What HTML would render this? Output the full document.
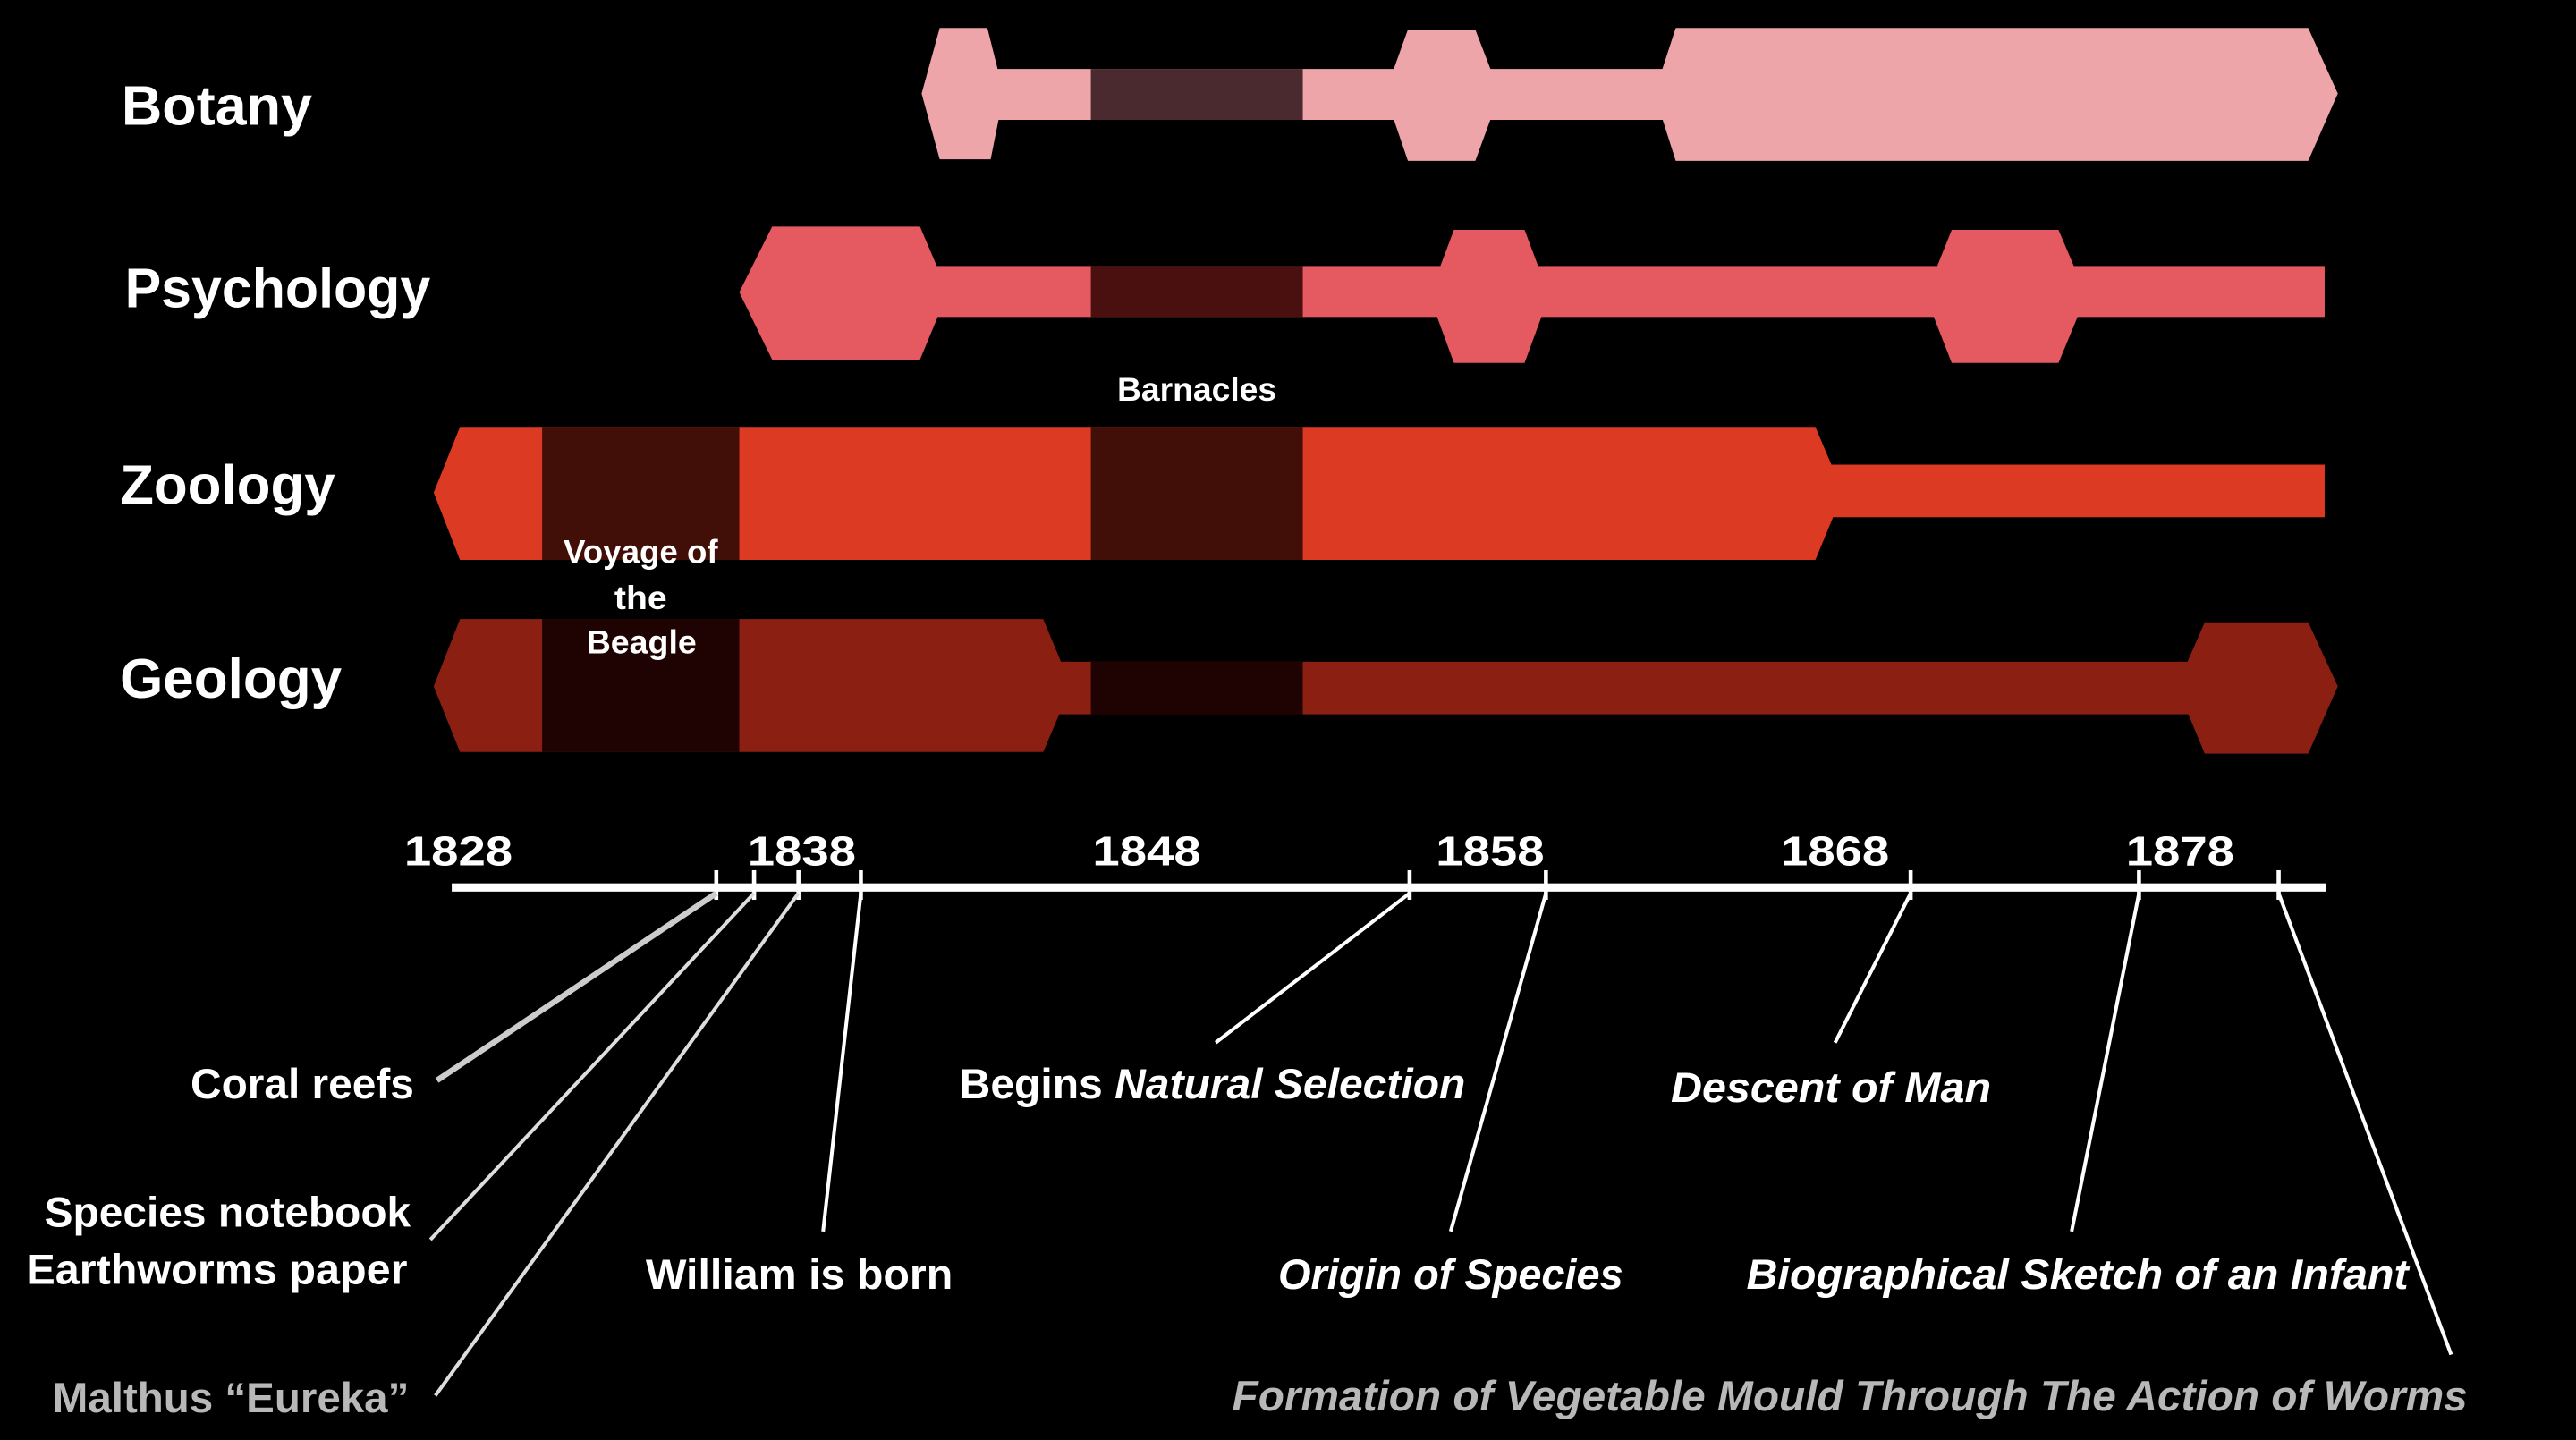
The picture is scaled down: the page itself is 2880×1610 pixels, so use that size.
<!DOCTYPE html>
<html><head><meta charset="utf-8"><style>
html,body{margin:0;padding:0;background:#000;width:2880px;height:1610px;overflow:hidden}
svg{display:block}
text{font-family:"Liberation Sans",sans-serif;font-weight:bold;fill:#fff}
</style></head><body>
<svg width="2880" height="1610" viewBox="0 0 1568 877" preserveAspectRatio="none">
<rect width="1568" height="877" fill="#000"/>
<!-- Botany -->
<g fill="#EDA5AA">
<rect x="605" y="42" width="410" height="31"/>
<polygon points="561,57 572,17 601,17 611,57 603,97 572,97"/>
<polygon points="843,57 857,18 898,18 913,57 898,98 857,98"/>
<polygon points="1007,57 1020,17 1405,17 1423,57 1405,98 1020,98"/>
</g>
<rect x="664" y="42" width="129" height="31" fill="#4a2a2e"/>
<!-- Psychology -->
<g fill="#E45A60">
<rect x="560" y="162" width="855" height="31"/>
<polygon points="450,178 470,138 560,138 577,178 560,219 470,219"/>
<polygon points="870,180 885,140 928,140 943,180 928,221 885,221"/>
<polygon points="1172,180 1188,140 1253,140 1270,180 1253,221 1188,221"/>
</g>
<rect x="664" y="162" width="129" height="31" fill="#4a1010"/>
<!-- Zoology -->
<g fill="#DC3A22">
<rect x="1105" y="283" width="310" height="32"/>
<polygon points="264,300 280,260 1105,260 1122,300 1105,341 280,341"/>
</g>
<rect x="330" y="260" width="120" height="81" fill="#420e08"/>
<rect x="664" y="260" width="129" height="81" fill="#420e08"/>
<!-- Geology -->
<g fill="#8A1F12">
<rect x="640" y="403" width="705" height="32"/>
<polygon points="264,418 280,377 635,377 652,418 635,458 280,458"/>
<polygon points="1325,418 1342,379 1405,379 1423,418 1405,459 1342,459"/>
</g>
<rect x="330" y="377" width="120" height="81" fill="#1f0302"/>
<rect x="664" y="403" width="129" height="32" fill="#1f0302"/>
<!-- titles -->
<text x="74" y="76" font-size="34" textLength="116" lengthAdjust="spacingAndGlyphs">Botany</text>
<text x="76" y="187" font-size="34" textLength="186" lengthAdjust="spacingAndGlyphs">Psychology</text>
<text x="73" y="307" font-size="34" textLength="131" lengthAdjust="spacingAndGlyphs">Zoology</text>
<text x="73" y="425" font-size="34" textLength="135" lengthAdjust="spacingAndGlyphs">Geology</text>
<text x="680" y="244" font-size="20" textLength="97" lengthAdjust="spacingAndGlyphs">Barnacles</text>
<text x="343" y="343" font-size="20" textLength="94" lengthAdjust="spacingAndGlyphs">Voyage of</text>
<text x="374" y="371" font-size="20" textLength="32" lengthAdjust="spacingAndGlyphs">the</text>
<text x="357" y="398" font-size="20" textLength="67" lengthAdjust="spacingAndGlyphs">Beagle</text>
<!-- axis -->
<rect x="275" y="538" width="1141" height="5" fill="#fff"/>
<g stroke="#fff" stroke-width="2.5">
<line x1="436" y1="530" x2="436" y2="548"/><line x1="459" y1="530" x2="459" y2="548"/>
<line x1="486" y1="530" x2="486" y2="548"/><line x1="524" y1="530" x2="524" y2="548"/>
<line x1="858" y1="530" x2="858" y2="548"/><line x1="941" y1="530" x2="941" y2="548"/>
<line x1="1163" y1="530" x2="1163" y2="548"/><line x1="1302" y1="530" x2="1302" y2="548"/>
<line x1="1387" y1="530" x2="1387" y2="548"/>
</g>
<g font-size="25">
<text x="246" y="527" textLength="66" lengthAdjust="spacingAndGlyphs">1828</text>
<text x="455" y="527" textLength="66" lengthAdjust="spacingAndGlyphs">1838</text>
<text x="665" y="527" textLength="66" lengthAdjust="spacingAndGlyphs">1848</text>
<text x="874" y="527" textLength="66" lengthAdjust="spacingAndGlyphs">1858</text>
<text x="1084" y="527" textLength="66" lengthAdjust="spacingAndGlyphs">1868</text>
<text x="1294" y="527" textLength="66" lengthAdjust="spacingAndGlyphs">1878</text>
</g>
<!-- leaders -->
<g stroke-width="2.2" fill="none">
<line x1="436" y1="544" x2="266" y2="658" stroke="#ccc" stroke-width="3.5"/>
<line x1="459" y1="544" x2="262" y2="755" stroke="#ddd"/>
<line x1="486" y1="544" x2="265" y2="850" stroke="#ddd"/>
<line x1="524" y1="544" x2="501" y2="750" stroke="#fff"/>
<line x1="858" y1="544" x2="740" y2="635" stroke="#fff"/>
<line x1="941" y1="544" x2="883" y2="750" stroke="#fff"/>
<line x1="1163" y1="544" x2="1117" y2="635" stroke="#fff"/>
<line x1="1302" y1="544" x2="1261" y2="750" stroke="#fff"/>
<line x1="1387" y1="544" x2="1492" y2="825" stroke="#fff"/>
</g>
<!-- labels -->
<g font-size="26">
<text x="116" y="669" textLength="136" lengthAdjust="spacingAndGlyphs">Coral reefs</text>
<text x="27" y="747" textLength="223" lengthAdjust="spacingAndGlyphs">Species notebook</text>
<text x="16" y="782" textLength="232" lengthAdjust="spacingAndGlyphs">Earthworms paper</text>
<text x="32" y="860" textLength="217" lengthAdjust="spacingAndGlyphs" style="fill:#b8b8b8">Malthus “Eureka”</text>
<text x="393" y="785" textLength="187" lengthAdjust="spacingAndGlyphs">William is born</text>
<text x="584" y="669" textLength="308" lengthAdjust="spacingAndGlyphs">Begins <tspan font-style="italic">Natural Selection</tspan></text>
<text x="1017" y="671" textLength="195" lengthAdjust="spacingAndGlyphs" font-style="italic">Descent of Man</text>
<text x="778" y="785" textLength="210" lengthAdjust="spacingAndGlyphs" font-style="italic">Origin of Species</text>
<text x="1063" y="785" textLength="403" lengthAdjust="spacingAndGlyphs" font-style="italic">Biographical Sketch of an Infant</text>
<text x="750" y="859" textLength="752" lengthAdjust="spacingAndGlyphs" font-style="italic" style="fill:#b8b8b8">Formation of Vegetable Mould Through The Action of Worms</text>
</g>
</svg>
</body></html>
